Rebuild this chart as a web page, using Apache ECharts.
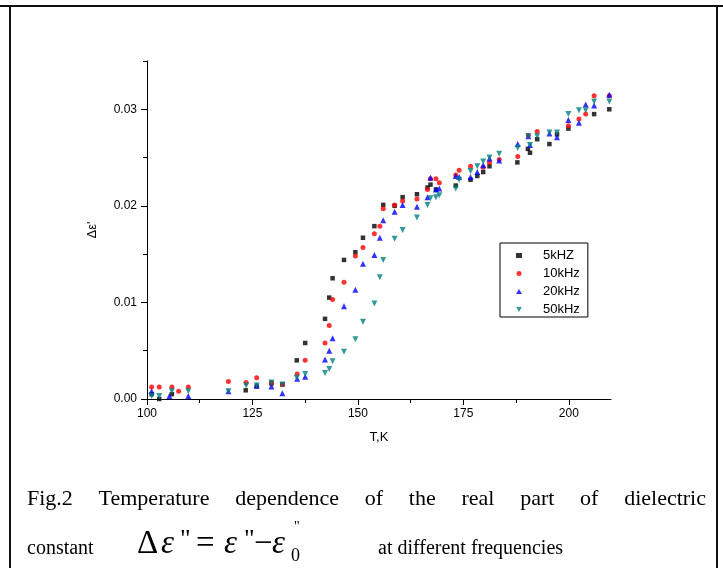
<!DOCTYPE html>
<html><head><meta charset="utf-8">
<script src="https://cdn.jsdelivr.net/npm/echarts@6/dist/echarts.min.js"></script>
<style>html,body{margin:0;padding:0;background:#fff}#c{width:723px;height:568px}</style>
</head><body><div id="c"></div>
<script>
// ---- data ----
const seriesNames = ['5kHZ', '10kHz', '20kHz', '50kHz'];
const T5  = [101.1,102.9,105.9,123.4,126.0,129.5,132.1,135.5,137.5,142.2,143.2,144.0,146.7,149.4,151.2,153.9,156.0,158.7,160.6,164.0,166.5,167.2,168.5,173.2,176.7,178.3,179.7,181.2,187.8,190.3,190.8,192.5,195.4,197.2,199.9,206.0,209.6];
const V5  = [0.0005,0.0000,0.0005,0.0009,0.0013,0.0016,0.0015,0.0040,0.0058,0.0083,0.0105,0.0125,0.0144,0.0152,0.0167,0.0179,0.0201,0.0200,0.0209,0.0212,0.0219,0.0222,0.0217,0.0221,0.0227,0.0231,0.0235,0.0241,0.0245,0.0259,0.0255,0.0269,0.0264,0.0274,0.0280,0.0295,0.0300];
const T10 = [101.1,102.9,105.9,107.5,109.8,119.3,123.5,126.0,129.5,132.1,135.6,137.5,142.2,143.2,144.0,146.7,149.4,151.2,153.9,155.2,156.0,158.7,160.6,164.0,166.5,167.2,168.5,169.3,173.2,174.0,176.7,179.7,181.2,183.5,187.9,190.4,192.5,199.9,202.4,204.0,206.0,209.6];
const V10 = [0.00125,0.00125,0.00125,0.0008,0.00125,0.0018,0.0017,0.0022,0.0017,0.0015,0.0026,0.0040,0.0058,0.0076,0.0103,0.0121,0.0148,0.0157,0.0171,0.0179,0.0197,0.0201,0.0205,0.0207,0.0217,0.0228,0.0228,0.0224,0.0232,0.0237,0.0241,0.0240,0.0245,0.0248,0.0251,0.0273,0.0277,0.0283,0.0290,0.0295,0.0314,0.0314];
const T20 = [101.1,105.3,109.8,119.3,126.0,129.5,132.1,135.6,137.5,142.2,143.2,144.0,146.7,149.4,151.2,153.9,155.2,156.0,158.7,160.6,164.0,166.5,167.2,168.5,169.3,173.2,174.0,176.7,178.3,179.7,181.2,183.5,187.9,190.4,190.8,195.4,197.2,199.9,202.4,204.0,206.0,209.6];
const V20 = [0.0008,0.0003,0.0003,0.0008,0.0014,0.0013,0.0006,0.0021,0.0023,0.0041,0.0050,0.0063,0.0096,0.0113,0.0140,0.0149,0.0167,0.0185,0.0194,0.0201,0.0199,0.0209,0.0229,0.0217,0.0218,0.0231,0.0230,0.0230,0.0235,0.0242,0.0249,0.0247,0.0264,0.0272,0.0263,0.0275,0.0271,0.0289,0.0286,0.0305,0.0304,0.0315];
const T50 = [101.1,102.9,105.9,109.8,119.3,123.5,126.0,129.5,132.1,135.5,137.5,142.2,143.2,144.0,146.7,149.4,151.2,153.9,155.2,156.0,158.7,160.6,164.0,166.5,167.2,168.5,169.3,173.2,174.0,176.7,178.3,179.7,181.2,183.5,187.9,190.4,190.8,192.5,195.4,197.2,199.9,202.4,204.0,206.0,209.6];
const V50 = [0.0003,0.0003,0.0008,0.0008,0.0008,0.0014,0.0014,0.0017,0.0015,0.0022,0.0026,0.0027,0.0031,0.0039,0.0049,0.0062,0.0080,0.0099,0.0126,0.0144,0.0166,0.0175,0.0188,0.0201,0.0208,0.0209,0.0211,0.0218,0.0227,0.0236,0.0241,0.0246,0.0250,0.0254,0.0260,0.0272,0.0263,0.0272,0.0276,0.0276,0.0295,0.0299,0.0299,0.0308,0.0308];
const xMajorTicks = [100, 125, 150, 175, 200];
const xMinorTicks = [112.5, 137.5, 162.5, 187.5];
const yMajorTicks = [0, 0.01, 0.02, 0.03];
const yMinorTicks = [0.005, 0.015, 0.025, 0.035];
const xName = 'T,K';
const yName = "Δε'";
const captionLine1 = 'Fig.2 Temperature dependence of the real part of dielectric';
const captionWord = 'constant';
const captionTail = 'at different frequencies';

const pairs = (t, v) => t.map((x, i) => [x, v[i]]);

const chart = echarts.init(document.getElementById('c'), null, {renderer: 'canvas'});

// caption line 1: justified between the two margins (extra room in the word gaps)
const ctx = document.createElement('canvas').getContext('2d');
const cap1Font = '22px "Liberation Serif"';
const capFont = '20px "Liberation Serif"';
ctx.font = cap1Font;
const words = captionLine1.split(' ');
const widths = words.map(w => ctx.measureText(w).width);
const totalW = widths.reduce((a, b) => a + b, 0);
const L = 27, R = 706;
const gap = (R - L - totalW) / (words.length - 1);
const graphics = [];
let cx = L;
words.forEach((w, i) => {
  graphics.push({type: 'text', x: cx, y: 499, style: {text: w, font: cap1Font, fill: '#000', textAlign: 'left', textVerticalAlign: 'middle'}});
  cx += widths[i] + gap;
});
const mathFont = '33px "Liberation Serif"';
const mathIt = 'italic 33px "Liberation Serif"';
function T(text, x, y, font) {
  graphics.push({type: 'text', x: x, y: y, style: {text: text, font: font, fill: '#000', textAlign: 'left', textVerticalAlign: 'middle'}});
}
T(captionWord, 27, 549, capFont);
T('Δ', 137, 544, mathFont);
T('ε', 161, 544, mathIt);
T('"', 180, 540, '26px "Liberation Serif"');
T('=', 196, 544, mathFont);
T('ε', 224, 544, mathIt);
T('"', 244, 540, '26px "Liberation Serif"');
T('−', 254, 544, mathFont);
T('ε', 272, 544, mathIt);
T('0', 291, 556, '18px "Liberation Serif"');
T('"', 294, 527, '14px "Liberation Serif"');
T(captionTail, 378, 549, capFont);
// frame
graphics.push({type: 'line', shape: {x1: 0, y1: 6, x2: 723, y2: 6}, style: {stroke: '#111', lineWidth: 2}});
graphics.push({type: 'line', shape: {x1: 10, y1: 5, x2: 10, y2: 568}, style: {stroke: '#111', lineWidth: 2}});
graphics.push({type: 'line', shape: {x1: 717, y1: 5, x2: 717, y2: 568}, style: {stroke: '#111', lineWidth: 2}});

const axisCommon = {
  axisLine: {lineStyle: {color: '#000', width: 1}},
  splitLine: {show: false}
};

const downTriangle = 'path://M0,0L10,0L5,9Z';

const option = {
  animation: false,
  backgroundColor: '#fff',
  textStyle: {fontFamily: 'Liberation Sans'},
  grid: {left: 147, right: 112, top: 61, bottom: 169},
  xAxis: [
    Object.assign({type: 'value', min: 100, max: 210, position: 'bottom',
      axisTick: {length: 6, lineStyle: {color: '#000'}, customValues: xMajorTicks},
      axisLabel: {customValues: xMajorTicks, color: '#000', fontSize: 12, margin: 9, fontFamily: 'Liberation Sans'},
      name: xName, nameLocation: 'middle', nameGap: 32,
      nameTextStyle: {color: '#000', fontSize: 13, fontFamily: 'Liberation Sans'}}, axisCommon),
    {type: 'value', min: 100, max: 210, position: 'bottom', axisLine: {show: false},
      axisTick: {length: 4, lineStyle: {color: '#000'}, customValues: xMinorTicks},
      axisLabel: {show: false}, splitLine: {show: false}}
  ],
  yAxis: [
    Object.assign({type: 'value', min: 0, max: 0.035, position: 'left',
      axisTick: {length: 6, lineStyle: {color: '#000'}, customValues: yMajorTicks},
      axisLabel: {customValues: yMajorTicks, color: '#000', fontSize: 12, margin: 10,
        fontFamily: 'Liberation Sans', formatter: v => v.toFixed(2)},
      name: yName, nameLocation: 'middle', nameGap: 48, nameRotate: 90,
      nameTextStyle: {color: '#000', fontSize: 13, fontFamily: 'Liberation Sans'}}, axisCommon),
    {type: 'value', min: 0, max: 0.035, position: 'left', axisLine: {show: false},
      axisTick: {length: 4, lineStyle: {color: '#000'}, customValues: yMinorTicks},
      axisLabel: {show: false}, splitLine: {show: false}}
  ],
  legend: {
    left: 500, top: 243, orient: 'vertical',
    itemWidth: 6, itemHeight: 5, itemGap: 3,
    padding: [5, 8, 0, 16],
    borderColor: '#000', borderWidth: 1, borderRadius: 0,
    textStyle: {fontSize: 13, color: '#000', lineHeight: 15, padding: [0, 0, 0, 16], fontFamily: 'Liberation Sans'},
    data: [seriesNames[0], seriesNames[1], seriesNames[2], {name: seriesNames[3], icon: downTriangle}]
  },
  graphic: graphics,
  series: [
    {type: 'scatter', name: seriesNames[0], data: pairs(T5, V5), symbol: 'rect', symbolSize: 4.5, clip: false, itemStyle: {color: '#000000'}},
    {type: 'scatter', name: seriesNames[1], data: pairs(T10, V10), symbol: 'circle', symbolSize: 5, clip: false, itemStyle: {color: '#ff0000'}},
    {type: 'scatter', name: seriesNames[2], data: pairs(T20, V20), symbol: 'triangle', symbolSize: 6, clip: false, itemStyle: {color: '#0000ff'}},
    {type: 'scatter', name: seriesNames[3], data: pairs(T50, V50), symbol: 'triangle', symbolRotate: 180, symbolSize: 6, clip: false, itemStyle: {color: '#008080'}}
  ]
};
chart.setOption(option);
</script>
</body></html>
